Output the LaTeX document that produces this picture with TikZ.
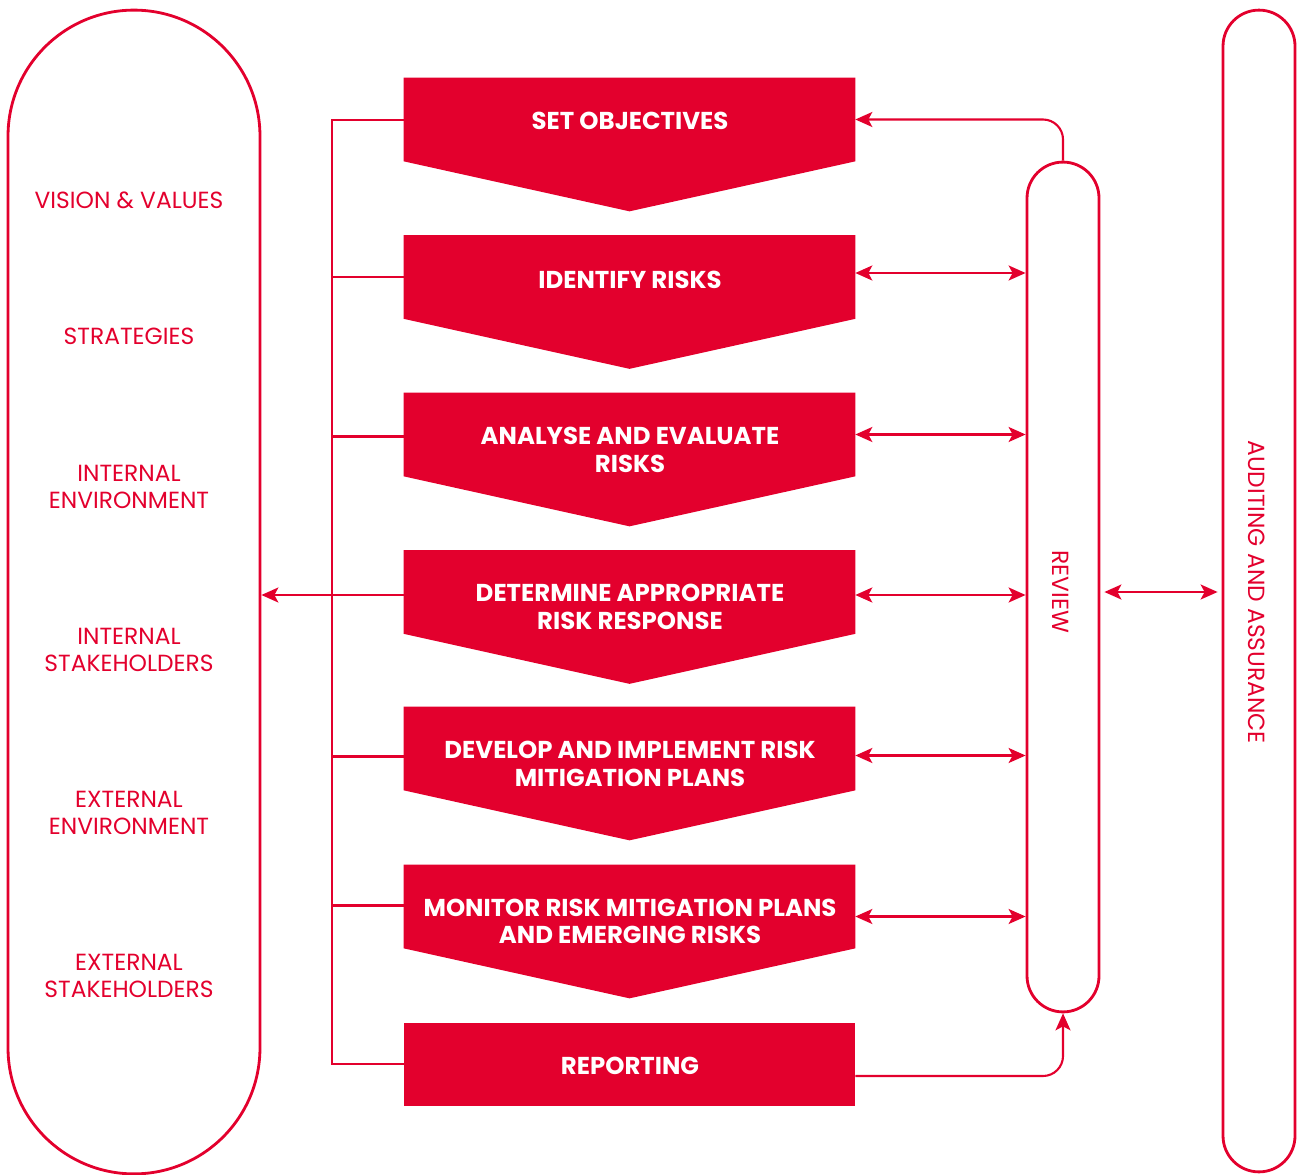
\documentclass[tikz,border=0pt]{standalone}
\usepackage{fontspec}
\setmainfont{Poppins}
\usetikzlibrary{arrows.meta,calc}
\definecolor{rred}{RGB}{227,0,45}
\begin{document}
\begin{tikzpicture}[x=0.02cm,y=-0.02cm,
  pillline/.style={draw=rred,line width=1.6pt},
  chevbox/.style={inner sep=0pt,minimum width=9.02cm,minimum height=1.66cm},
  chevtext/.style={text=white,font=\bfseries\fontsize{13.9}{15.5}\selectfont,align=center},
  sidetext/.style={text=rred,font=\fontsize{13.3}{15.5}\selectfont,align=center},
  conn/.style={draw=rred,line width=1.2pt},
  >={Stealth[length=0.34cm,width=0.3cm,inset=0.08cm]}
]
\useasboundingbox (0,0) rectangle (1300,1175);
% left pill
\node[pillline,rounded corners=2.52cm,minimum width=5.04cm,minimum height=23.28cm,inner sep=0pt] (env) at (134,592) {};
% review pill
\node[pillline,rounded corners=0.72cm,minimum width=1.44cm,minimum height=17cm,inner sep=0pt] (rev) at (1063,587) {};
% auditing pill
\node[pillline,rounded corners=0.72cm,minimum width=1.44cm,minimum height=23.24cm,inner sep=0pt] (aud) at (1259,591) {};

% chevrons
\foreach \n/\t in {1/78,2/235.5,3/393,4/550.5,5/707,6/865}{
  \node[chevbox] (c\n) at (629.5,\t+41.5) {};
  \fill[rred] (c\n.north west) -- (c\n.north east) -- (c\n.south east) -- ($(c\n.south)+(0,50)$) -- (c\n.south west) -- cycle;
}
\node[chevbox,fill=rred] (c7) at (629.5,1064) {};

\node[chevtext] (t1) at (630,121) {SET OBJECTIVES};
\node[chevtext] (t2) at (630,280) {IDENTIFY RISKS};
\node[chevtext] (t3) at (630,450) {ANALYSE AND EVALUATE\\RISKS};
\node[chevtext] (t4) at (630,607) {DETERMINE APPROPRIATE\\RISK RESPONSE};
\node[chevtext] (t5) at (630,764) {DEVELOP AND IMPLEMENT RISK\\MITIGATION PLANS};
\node[chevtext] (t6) at (630,921) {MONITOR RISK MITIGATION PLANS\\AND EMERGING RISKS};
\node[chevtext] (t7) at (630,1066) {REPORTING};

% side texts
\node[sidetext] (s1) at (129,200) {VISION \& VALUES};
\node[sidetext] (s2) at (129,336) {STRATEGIES};
\node[sidetext] (s3) at (129,487) {INTERNAL\\ENVIRONMENT};
\node[sidetext] (s4) at (129,650) {INTERNAL\\STAKEHOLDERS};
\node[sidetext] (s5) at (129,813) {EXTERNAL\\ENVIRONMENT};
\node[sidetext] (s6) at (129,976) {EXTERNAL\\STAKEHOLDERS};

\node[sidetext,rotate=-90] (rt) at (1061,592) {REVIEW};
\node[sidetext,rotate=-90] (at) at (1257,592) {AUDITING AND ASSURANCE};

% connection points
\coordinate (sp) at (332,120);
\coordinate (l1) at ($(c1.west)+(0,0.5)$);
\coordinate (l2) at (c2.west);
\coordinate (l3) at ($(c3.west)+(0,2)$);
\coordinate (l4) at ($(c4.west)+(0,3)$);
\coordinate (l5) at ($(c5.west)+(0,8)$);
\coordinate (l6) at ($(c6.west)+(0,-1)$);
\coordinate (l7) at (c7.west);
\coordinate (r2) at ($(c2.east)+(0,-4)$);
\coordinate (r3) at (c3.east);
\coordinate (r4) at ($(c4.east)+(0,3)$);
\coordinate (r5) at ($(c5.east)+(0,7)$);
\coordinate (r6) at ($(c6.east)+(0,10)$);
\coordinate (r7) at ($(c7.east)+(0,12)$);
\coordinate (ra) at ($(rev.east)+(4,5)$);
\coordinate (aa) at (ra -| aud.west);

% left spine
\draw[conn] (l1) -- (l1 -| sp) -- (l7 -| sp) -- (l7);
\draw[conn] (l2) -- (l2 -| sp);
\draw[conn] (l3) -- (l3 -| sp);
\draw[conn] (l5) -- (l5 -| sp);
\draw[conn] (l6) -- (l6 -| sp);
\draw[conn,->] (l4) -- (l4 -| env.east);

% right arrows
\foreach \k in {2,...,6}{
  \draw[conn,<->] (r\k) -- (r\k -| rev.west);
}
\draw[conn,->,rounded corners=0.4cm] (rev.north) -- (rev.north |- c1.east) -- (c1.east);
\draw[conn,->,rounded corners=0.4cm] (r7) -- (r7 -| rev.south) -- (rev.south);
\draw[conn,<->] (ra) -- ($(aa)+(-4,0)$);
\end{tikzpicture}
\end{document}
